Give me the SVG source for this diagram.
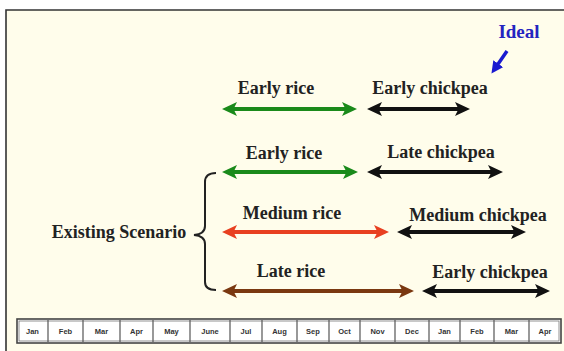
<svg xmlns="http://www.w3.org/2000/svg" width="564" height="351" viewBox="0 0 564 351">
<style>
.lbl{font-family:"Liberation Serif","Times New Roman",serif;font-weight:bold;font-size:18px;fill:#222;text-anchor:middle}
.mon{font-family:"Liberation Sans",Arial,sans-serif;font-weight:bold;font-size:7.5px;fill:#333;text-anchor:middle}
.sh{stroke-width:4;fill:none}
</style>
<defs>
<marker id="mg" markerUnits="userSpaceOnUse" markerWidth="18" markerHeight="16" refX="7" refY="7" orient="auto-start-reverse"><path d="M0,0 L15,7 L0,14 L3.5,7 Z" fill="#1a8a1a"/></marker>
<marker id="mk" markerUnits="userSpaceOnUse" markerWidth="18" markerHeight="16" refX="7" refY="7" orient="auto-start-reverse"><path d="M0,0 L15,7 L0,14 L3.5,7 Z" fill="#111"/></marker>
<marker id="mr" markerUnits="userSpaceOnUse" markerWidth="18" markerHeight="16" refX="7" refY="7" orient="auto-start-reverse"><path d="M0,0 L15,7 L0,14 L3.5,7 Z" fill="#e84020"/></marker>
<marker id="mb" markerUnits="userSpaceOnUse" markerWidth="18" markerHeight="16" refX="7" refY="7" orient="auto-start-reverse"><path d="M0,0 L15,7 L0,14 L3.5,7 Z" fill="#7a3810"/></marker>
<marker id="mu" markerUnits="userSpaceOnUse" markerWidth="14" markerHeight="14" refX="4" refY="6" orient="auto"><path d="M0,0 L12,6 L0,12 Z" fill="#1a1ad0"/></marker>
</defs>
<rect width="564" height="351" fill="#fff"/>
<rect x="6" y="10" width="560" height="345" fill="#fffdeb"/>
<path d="M6,351 V10 H564" fill="none" stroke="#333" stroke-width="1.6"/>

<g id="ideal">
<text x="519" y="38" class="lbl" style="font-size:19px;fill:#2424c0">Ideal</text>
</g>

<g id="row1">
<text x="276" y="94" class="lbl">Early rice</text>
<text x="430" y="94" class="lbl">Early chickpea</text>
</g>
<g id="row2">
<text x="284" y="159" class="lbl">Early rice</text>
<text x="441" y="158" class="lbl">Late chickpea</text>
</g>
<g id="row3">
<text x="292" y="219" class="lbl">Medium rice</text>
<text x="478" y="221" class="lbl">Medium chickpea</text>
</g>
<g id="row4">
<text x="291" y="277" class="lbl">Late rice</text>
<text x="490" y="278" class="lbl">Early chickpea</text>
</g>
<g id="existing">
<text x="119" y="238" class="lbl">Existing Scenario</text>
<path d="M216,173 Q205,173 205,182 V226 Q205,234 194,235 Q205,236 205,244 V282 Q205,290 216,290" fill="none" stroke="#222" stroke-width="2"/>
</g>

<g id="connectors">
<line x1="230" y1="109" x2="349" y2="109" class="sh" stroke="#1a8a1a" marker-start="url(#mg)" marker-end="url(#mg)"/>
<line x1="375" y1="109" x2="462" y2="109" class="sh" stroke="#111" marker-start="url(#mk)" marker-end="url(#mk)"/>
<line x1="230" y1="172" x2="350" y2="172" class="sh" stroke="#1a8a1a" marker-start="url(#mg)" marker-end="url(#mg)"/>
<line x1="375" y1="172" x2="495" y2="172" class="sh" stroke="#111" marker-start="url(#mk)" marker-end="url(#mk)"/>
<line x1="230" y1="232" x2="381" y2="232" class="sh" stroke="#e84020" marker-start="url(#mr)" marker-end="url(#mr)"/>
<line x1="405" y1="232" x2="518" y2="232" class="sh" stroke="#111" marker-start="url(#mk)" marker-end="url(#mk)"/>
<line x1="230" y1="291" x2="406" y2="291" class="sh" stroke="#7a3810" marker-start="url(#mb)" marker-end="url(#mb)"/>
<line x1="430" y1="291" x2="542" y2="291" class="sh" stroke="#111" marker-start="url(#mk)" marker-end="url(#mk)"/>
<line x1="507" y1="51" x2="496" y2="67" stroke="#1a1ad0" stroke-width="3.5" marker-end="url(#mu)"/>
</g>

<g id="months">
<rect x="17" y="319" width="544" height="24" fill="#fff" stroke="#444" stroke-width="1.6"/>
<rect x="19" y="321" width="540" height="20" fill="none" stroke="#777" stroke-width="0.8"/>
<path d="M48,320V342M83,320V342M120,320V342M153,320V342M190,320V342M230,320V342M262,320V342M297,320V342M329,320V342M360,320V342M395,320V342M429,320V342M460,320V342M494,320V342M529,320V342" stroke="#555" stroke-width="1.2"/>
<text x="32.5" y="334" class="mon">Jan</text>
<text x="65.5" y="334" class="mon">Feb</text>
<text x="101.5" y="334" class="mon">Mar</text>
<text x="136.5" y="334" class="mon">Apr</text>
<text x="171.5" y="334" class="mon">May</text>
<text x="210" y="334" class="mon">June</text>
<text x="246" y="334" class="mon">Jul</text>
<text x="279.5" y="334" class="mon">Aug</text>
<text x="313" y="334" class="mon">Sep</text>
<text x="344.5" y="334" class="mon">Oct</text>
<text x="377.5" y="334" class="mon">Nov</text>
<text x="412" y="334" class="mon">Dec</text>
<text x="444.5" y="334" class="mon">Jan</text>
<text x="477" y="334" class="mon">Feb</text>
<text x="511.5" y="334" class="mon">Mar</text>
<text x="545" y="334" class="mon">Apr</text>
</g>
</svg>
